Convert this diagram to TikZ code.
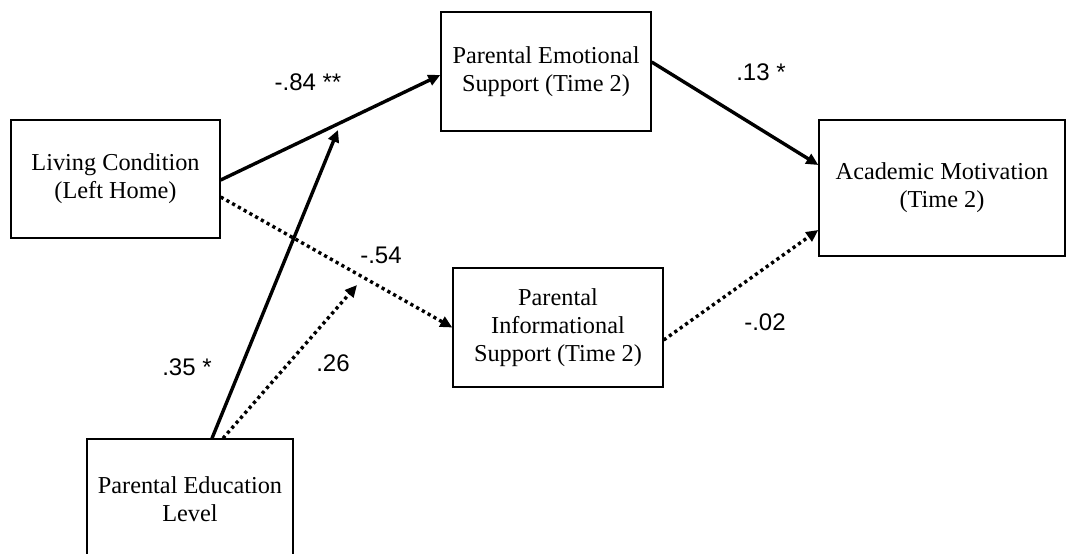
\documentclass[tikz,border=0pt]{standalone}
\usepackage{fontspec}
\setmainfont{Liberation Serif}
\newfontfamily\labelfont{Liberation Sans}
\usetikzlibrary{arrows.meta,calc}
\tikzset{
  varbox/.style={draw, line width=1.4pt, inner sep=0pt, align=center,
    font=\fontsize{24.3}{28}\selectfont},
  path solid/.style={line width=3.4pt, -{Triangle[length=12pt,width=11pt]}},
  path dotted/.style={line width=3.4pt, dash pattern=on 3.2pt off 3.4pt,
    -{Triangle[length=12pt,width=11pt]}},
  coef/.style={font=\labelfont\fontsize{24}{27}\selectfont, inner sep=0pt}
}
\begin{document}
\begin{tikzpicture}[x=1pt,y=-1pt]
\useasboundingbox (0,0) rectangle (1066,554);
\clip (0,0) rectangle (1066,554);

% variables
\node[varbox, minimum width=209pt, minimum height=118pt] (lc) at (115.5,179)
  {Living Condition\\(Left Home)};
\node[varbox, minimum width=210pt, minimum height=119pt] (emo) at (546,71.5)
  {Parental Emotional\\Support (Time 2)};
\node[varbox, minimum width=246pt, minimum height=136pt] (am) at (942,188)
  {Academic Motivation\\(Time 2)};
\node[varbox, minimum width=210pt, minimum height=119pt] (info) at (558,327.5)
  {Parental\\Informational\\Support (Time 2)};
\node[varbox, minimum width=206pt, minimum height=120pt] (ed) at (190,499)
  {Parental Education\\Level};

% moderation targets on the two paths from living condition
\coordinate (modA) at (338,130);
\coordinate (modB) at (357,285);

% paths
\draw[path solid]  ([yshift=-1pt]lc.east) -- ([yshift=-3.5pt]emo.west);
\draw[path dotted] ([yshift=-18pt]lc.east) -- (info.west);
\draw[path solid]  ([yshift=9.5pt]emo.east) -- ([yshift=23pt]am.west);
\draw[path dotted] ([yshift=-12.5pt]info.east) -- ([yshift=-42pt]am.west);
\draw[path solid]  ([xshift=22pt]ed.north) -- (modA);
\draw[path dotted] ([xshift=33pt]ed.north) -- (modB);

% coefficients
\node[coef] (c1) at (308,82) {-.84 **};
\node[coef] (c2) at (761,72) {.13 *};
\node[coef] (c3) at (381,255) {-.54};
\node[coef] (c4) at (333,363) {.26};
\node[coef] (c5) at (187,367) {.35 *};
\node[coef] (c6) at (765,322) {-.02};
\end{tikzpicture}
\end{document}
